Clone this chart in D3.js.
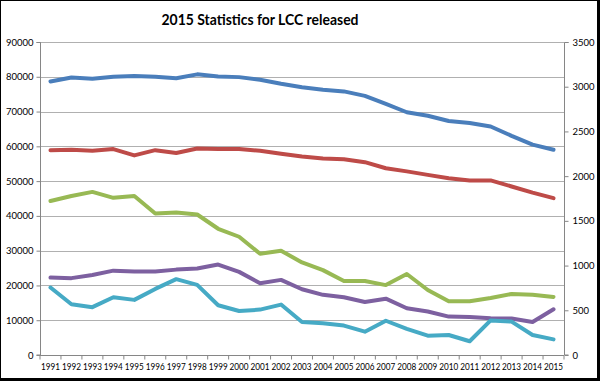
<!DOCTYPE html>
<html><head><meta charset="utf-8">
<script src="https://cdn.jsdelivr.net/npm/d3@7"></script>
<style>body{margin:0;background:#fff}svg{display:block}</style>
</head><body>
<svg id="c" width="600" height="381"></svg>
<script>
const years = ["1991","1992","1993","1994","1995","1996","1997","1998","1999","2000","2001","2002","2003","2004","2005","2006","2007","2008","2009","2010","2011","2012","2013","2014","2015"];
const seriesBlue   = [78650,79800,79400,80000,80200,80000,79600,80700,80100,79900,79150,78000,77000,76300,75800,74500,72200,69800,68800,67300,66700,65700,63000,60500,59000];
const seriesRed    = [58900,59000,58700,59200,57400,58900,58100,59400,59200,59200,58700,57850,57100,56500,56300,55450,53700,52800,51800,50850,50200,50200,48450,46700,45100];
const seriesGreen  = [44300,45700,46900,45200,45700,40700,41000,40400,36300,34000,29100,30000,26600,24400,21300,21300,20100,23300,18700,15450,15450,16400,17550,17300,16700];
const seriesPurple = [22250,22100,23000,24250,24000,24000,24550,24850,26000,23900,20650,21600,18900,17300,16600,15250,16200,13450,12500,11050,10900,10550,10500,9500,13150];
const seriesCyan   = [19400,14600,13750,16600,15850,19000,21800,20150,14300,12650,13050,14500,9500,9100,8450,6700,9850,7500,5550,5750,3950,9950,9600,5750,4500];
const leftTicks  = [0,10000,20000,30000,40000,50000,60000,70000,80000,90000];
const rightTicks = [0,500,1000,1500,2000,2500,3000,3500];
const title = "2015 Statistics for LCC released";

const series = [
  {v: seriesBlue,   c: "#4A7EBB"},
  {v: seriesRed,    c: "#BE4B48"},
  {v: seriesGreen,  c: "#98B954"},
  {v: seriesPurple, c: "#7D60A0"},
  {v: seriesCyan,   c: "#46AAC5"}
];

const svg = d3.select("#c");
const L = 40, R = 564, T = 42, B = 355;
const font = "Lato, 'Open Sans', sans-serif";

// frame
svg.append("rect").attr("x",0.5).attr("y",0.5).attr("width",598).attr("height",379)
  .attr("fill","#fff").attr("stroke","#000").attr("stroke-width",1);
svg.append("rect").attr("x",597).attr("y",0).attr("width",3).attr("height",381).attr("fill","#000");
svg.append("rect").attr("x",0).attr("y",378).attr("width",600).attr("height",3).attr("fill","#000");

const x = d3.scaleBand().domain(years).range([L, R]).paddingInner(0).paddingOuter(0);
const y = d3.scaleLinear().domain([0, 90000]).range([B, T]);
const y2 = d3.scaleLinear().domain([0, 3500]).range([B, T]);

// gridlines
svg.append("g").selectAll("line").data(leftTicks.filter(d=>d>0)).join("line")
  .attr("x1",L).attr("x2",R).attr("y1",d=>Math.round(y(d))+0.5).attr("y2",d=>Math.round(y(d))+0.5)
  .attr("stroke","#b0b0b0").attr("stroke-width",1);

// left axis
const gl = svg.append("g").attr("transform",`translate(${L+0.5},0)`)
  .call(d3.axisLeft(y).tickValues(leftTicks).tickSize(4).tickPadding(3).tickFormat(d3.format("d")));
// right axis
const gr = svg.append("g").attr("transform",`translate(${R+0.5},0)`)
  .call(d3.axisRight(y2).tickValues(rightTicks).tickSize(4).tickPadding(4).tickFormat(d3.format("d")));
// bottom axis
const gb = svg.append("g").attr("transform",`translate(0,${B+0.5})`)
  .call(d3.axisBottom(x).tickSize(0).tickPadding(8));
gb.selectAll(".tick").append("line").attr("x1",-x.bandwidth()/2).attr("x2",-x.bandwidth()/2).attr("y2",4).attr("stroke","#868686");
gb.append("line").attr("x1",R).attr("x2",R).attr("y2",4).attr("stroke","#868686");

[gl,gr,gb].forEach(g=>{
  g.select(".domain").attr("stroke","#868686");
  g.selectAll(".tick line").attr("stroke","#868686");
  g.selectAll("text").attr("font-family",font).attr("font-size","9.5px").attr("fill","#000");
});
gl.select(".domain").attr("d",`M-4,${T+0.5}H0V${B}H-4`);
gr.select(".domain").attr("d",`M4,${T+0.5}H0V${B}H4`);
gb.select(".domain").attr("d",`M${L},0H${R}`);
gb.selectAll("text").attr("textLength",19).attr("lengthAdjust","spacingAndGlyphs");

// lines
const line = d3.line().x((d,i)=>x(years[i]) + x.bandwidth()/2).y(d=>y(d));
svg.append("g").selectAll("path").data(series).join("path")
  .attr("d",d=>line(d.v)).attr("fill","none").attr("stroke",d=>d.c)
  .attr("stroke-width",4).attr("stroke-linejoin","round").attr("stroke-linecap","round");

// title
svg.append("text").attr("x",260).attr("y",25).attr("text-anchor","middle")
  .attr("font-family",font).attr("font-weight","bold").attr("font-size","16px")
  .attr("textLength",197).attr("lengthAdjust","spacingAndGlyphs").text(title);
</script>
</body></html>
